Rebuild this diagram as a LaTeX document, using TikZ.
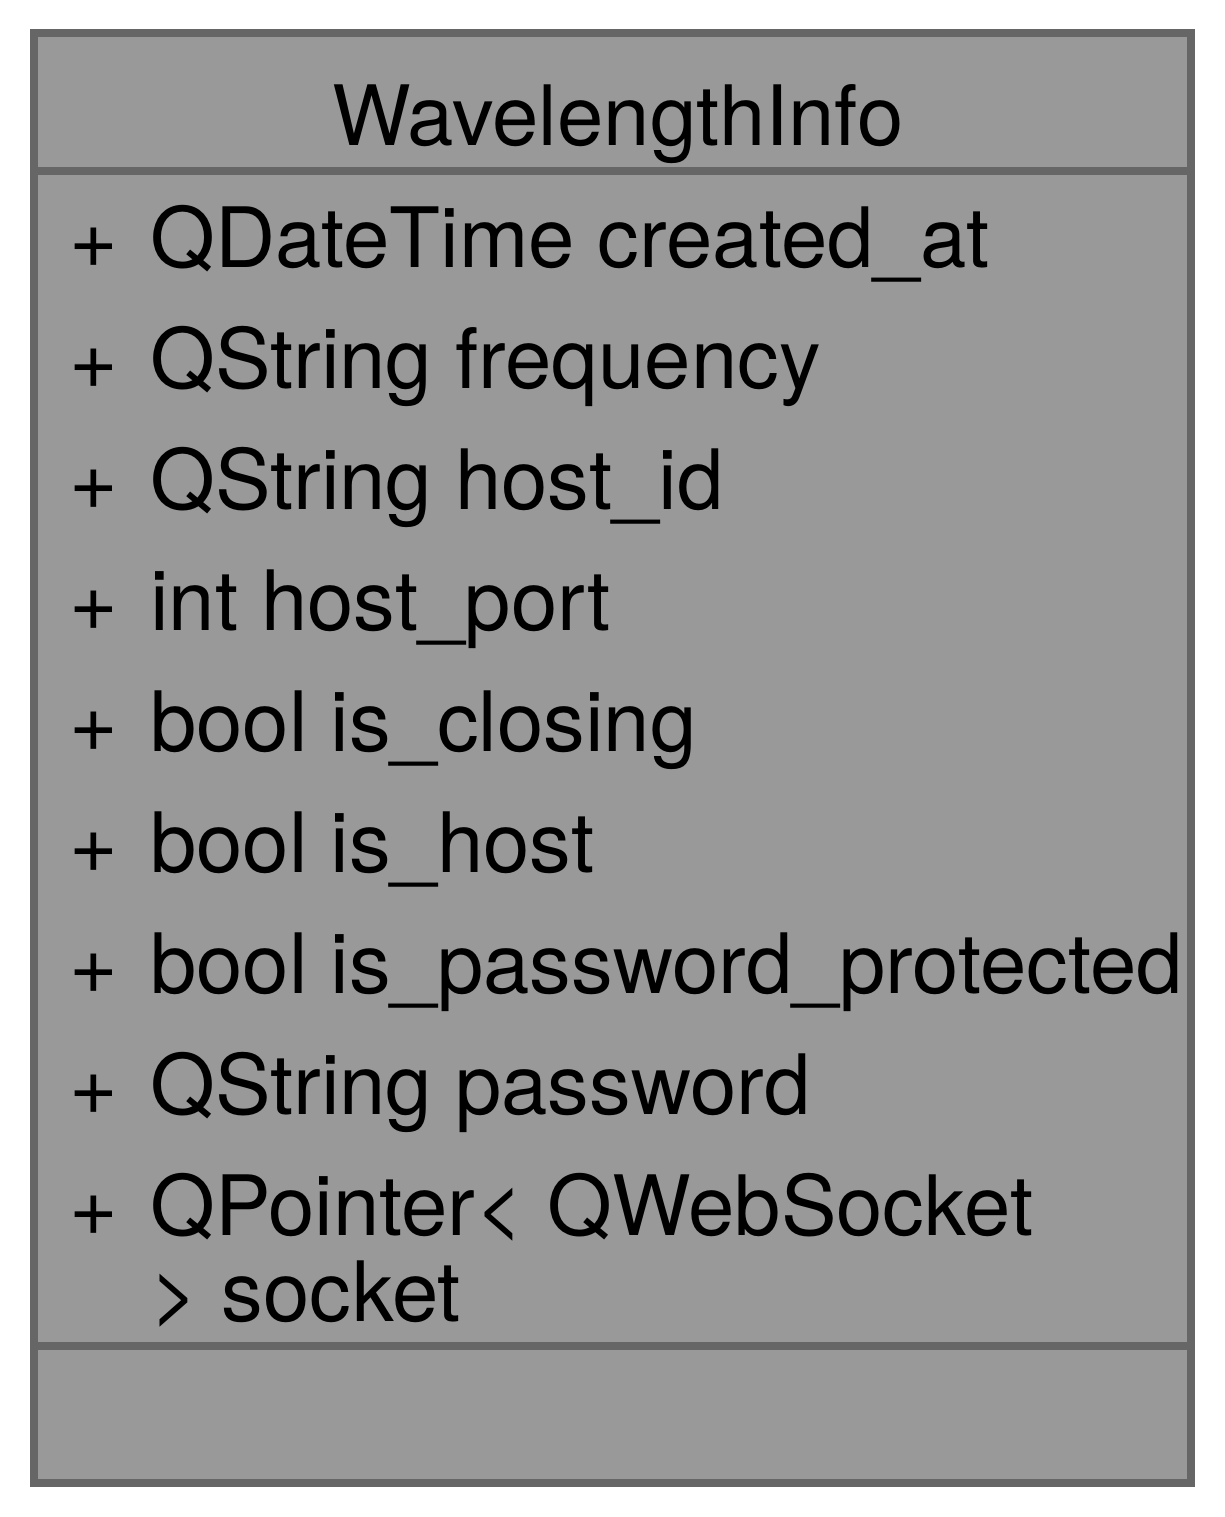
\documentclass[tikz,border=0pt]{standalone}
\usepackage{fontspec}
\setmainfont{TeX Gyre Heros}
\definecolor{classfill}{HTML}{999999}
\definecolor{classline}{HTML}{666666}
\tikzset{
  classbox/.style={draw=classline, fill=classfill, line width=7.5pt},
  divider/.style={draw=classline, line width=7.5pt},
  label/.style={inner sep=0pt, anchor=base west, font=\fontsize{83.3}{86}\selectfont},
  title/.style={inner sep=0pt, anchor=base, font=\fontsize{83.3}{86}\selectfont},
}
\begin{document}
\begin{tikzpicture}[x=1pt,y=-1pt]
\useasboundingbox (0,0) rectangle (1225,1517);
% class box with its three compartments
\draw[classbox] (34,33) rectangle (1191,1483);
\draw[divider] (34,171) -- (1191,171);
\draw[divider] (34,1346) -- (1191,1346);
% class name
\node[title] (name) at (618,146) {WavelengthInfo};
% attributes
\node[label] (v1) at (69,267) {+};
\node[label] (a1) at (150,267) {QDateTime created\_at};
\node[label] (v2) at (69,388) {+};
\node[label] (a2) at (150,388) {QString frequency};
\node[label] (v3) at (69,509) {+};
\node[label] (a3) at (150,509) {QString host\_id};
\node[label] (v4) at (69,630) {+};
\node[label] (a4) at (150,630) {int host\_port};
\node[label] (v5) at (69,751) {+};
\node[label] (a5) at (150,751) {bool is\_closing};
\node[label] (v6) at (69,872) {+};
\node[label] (a6) at (150,872) {bool is\_host};
\node[label] (v7) at (69,993) {+};
\node[label] (a7) at (150,993) {bool is\_password\_protected};
\node[label] (v8) at (69,1114) {+};
\node[label] (a8) at (150,1114) {QString password};
\node[label] (v9) at (69,1235) {+};
\node[label] (a9) at (150,1235) {QPointer< QWebSocket};
\node[label] (a9b) at (150,1321) {> socket};
\end{tikzpicture}
\end{document}
